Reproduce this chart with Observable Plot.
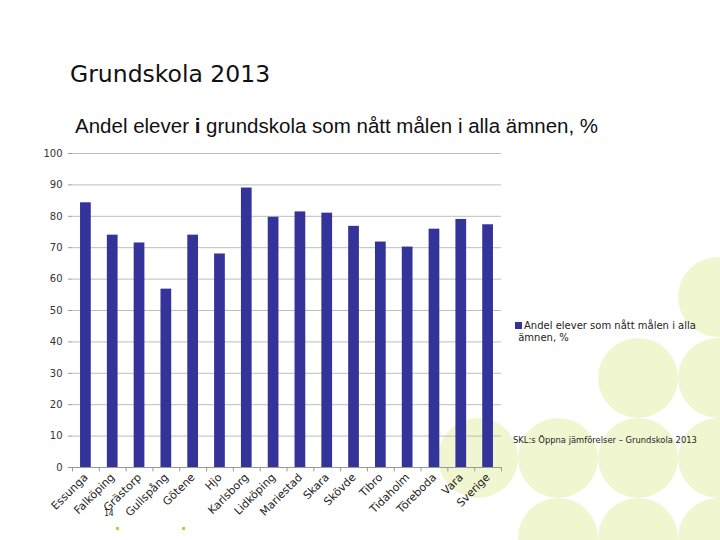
<!DOCTYPE html>
<html>
<head>
<meta charset="utf-8">
<script src="https://cdn.jsdelivr.net/npm/d3@7"></script>
<script src="https://cdn.jsdelivr.net/npm/@observablehq/plot@0.6"></script>
<style>
  html, body { margin: 0; padding: 0; background: #fff; }
  #page { position: relative; width: 720px; height: 540px; overflow: hidden; font-family: "DejaVu Sans", sans-serif; }
  .circ { position: absolute; width: 80px; height: 80px; border-radius: 50%; background: #f0f7d0; }
  #title { position: absolute; left: 70px; top: 60px; font-size: 23.5px; color: #111; white-space: nowrap; }
  #subtitle { position: absolute; left: 75px; top: 114px; font-family: "Liberation Sans", sans-serif; font-size: 20.5px; color: #111; white-space: nowrap; }
  #chart { position: absolute; left: 0; top: 140px; }
  #legend { position: absolute; left: 515px; top: 320px; font-size: 10px; color: #222; line-height: 12px; width: 200px; }
  #legend .sw { display: inline-block; width: 7px; height: 7px; background: #333399; margin-right: 2px; }
  #source { position: absolute; left: 513px; top: 435px; font-size: 8.4px; color: #222; white-space: nowrap; }
  #pnum { position: absolute; left: 104px; top: 509px; font-family: "DejaVu Sans Mono", monospace; font-size: 8px; color: #222; }
  .dot { position: absolute; width: 3px; height: 3px; background: #b5d334; }
</style>
</head>
<body>
<div id="page">
  <div id="circles"></div>
  <div id="title">Grundskola 2013</div>
  <div id="subtitle">Andel elever <b>i</b> grundskola som nått målen i alla ämnen, %</div>
  <div id="chart"></div>
  <div id="legend"><span class="sw"></span>Andel elever som nått målen i alla<br>&nbsp;ämnen, %</div>
  <div id="source">SKL:s Öppna jämförelser – Grundskola 2013</div>
  <div id="pnum">14</div>
  <div class="dot" style="left:116px;top:527px"></div>
  <div class="dot" style="left:182px;top:527px"></div>
</div>
<script>
const kommuner = ["Essunga","Falköping","Grästorp","Gullspång","Götene","Hjo","Karlsborg","Lidköping","Mariestad","Skara","Skövde","Tibro","Tidaholm","Töreboda","Vara","Sverige"];
const andel = [84.3, 74.0, 71.5, 56.8, 74.0, 68.0, 89.0, 79.7, 81.4, 81.0, 76.8, 71.8, 70.2, 75.9, 79.0, 77.3];
const yTicks = [0,10,20,30,40,50,60,70,80,90,100];

// decorative background circles (slide design)
const circleCenters = [[718,297],[638,378],[718,378],[478,458],[558,458],[638,458],[718,458],[558,538],[638,538],[718,538]];
const cdiv = document.getElementById("circles");
for (const [cx, cy] of circleCenters) {
  const d = document.createElement("div");
  d.className = "circ";
  d.style.left = (cx - 40) + "px";
  d.style.top = (cy - 40) + "px";
  cdiv.appendChild(d);
}

const data = kommuner.map((k, i) => ({kommun: k, value: andel[i]}));
const W = 720, H = 400, mL = 72, mR = 219;
const step = (W - mL - mR) / kommuner.length;

const chart = Plot.plot({
  width: W,
  height: H,
  marginTop: 13,
  marginBottom: 73,
  marginLeft: mL,
  marginRight: mR,
  style: {background: "transparent", fontFamily: "DejaVu Sans, sans-serif", fontSize: "10px", color: "#333"},
  x: {domain: kommuner, paddingInner: 0.6, paddingOuter: 0.3, round: false, label: null},
  y: {domain: [0, 100], label: null},
  marks: [
    Plot.ruleY(yTicks.filter(t => t > 0), {stroke: "#bdbdbd", strokeWidth: 1}),
    Plot.ruleY([0], {stroke: "#999", strokeWidth: 1}),
    Plot.barY(data, {x: "kommun", y: "value", fill: "#333399"}),
    Plot.ruleX(kommuner, {x: d => d, y1: 0, y2: -1.4, dx: -step / 2, stroke: "#999"}),
    Plot.ruleX([kommuner[kommuner.length - 1]], {x: d => d, y1: 0, y2: -1.4, dx: step / 2, stroke: "#999"}),
    Plot.axisY({ticks: yTicks, tickSize: 4, tickPadding: 6, stroke: "#999", tickFormat: d => d, fontSize: 10, fill: "#333"}),
    Plot.axisX({tickSize: 0, tickRotate: -45, tickPadding: 8, fontSize: 11, fill: "#222"})
  ]
});
document.getElementById("chart").appendChild(chart);
</script>
</body>
</html>
